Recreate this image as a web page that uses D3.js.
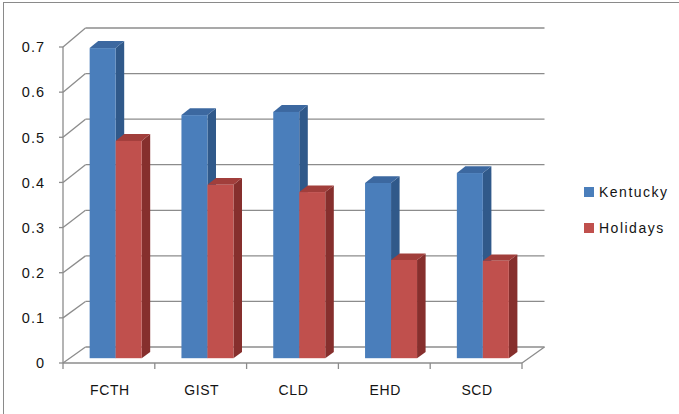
<!DOCTYPE html>
<html>
<head>
<meta charset="utf-8">
<script src="https://cdn.jsdelivr.net/npm/d3@7"></script>
<style>
  html, body { margin: 0; padding: 0; background: #fff; }
  svg { display: block; }
  text { font-family: "Liberation Sans", Arial, sans-serif; fill: #141414; }
</style>
</head>
<body>
<svg id="chart" width="679" height="414"></svg>
<script>
// Data
const categories = ["FCTH", "GIST", "CLD", "EHD", "SCD"];
const seriesNames = ["Kentucky", "Holidays"];
const kentucky = [0.685, 0.537, 0.544, 0.387, 0.409];
const holidays = [0.48, 0.383, 0.367, 0.217, 0.215];
const yTicks = [0, 0.1, 0.2, 0.3, 0.4, 0.5, 0.6, 0.7];
const yTickLabels = ["0", "0.1", "0.2", "0.3", "0.4", "0.5", "0.6", "0.7"];

const colors = {
  Kentucky: { front: "#4a7ebb", side: "#30598a", top: "#3c68a0" },
  Holidays: { front: "#c0504d", side: "#862f2d", top: "#a13e3b" }
};

const svg = d3.select("#chart");

// Outer chart frame
svg.append("rect")
  .attr("x", 3.5).attr("y", 2.5)
  .attr("width", 690).attr("height", 430)
  .attr("fill", "none").attr("stroke", "#8a8a8a").attr("stroke-width", 1);

// 3D plot box: front plane and back plane (oblique projection)
const frontLeft = 63, frontRight = 522;
const depthDX = 22.5;                 // horizontal shift of the back plane
const yFront = d3.scaleLinear().domain([0, 0.7]).range([363, 47]);
const yBack = d3.scaleLinear().domain([0, 0.7]).range([347, 28]);
const x = d3.scaleBand().domain(categories).range([frontLeft, frontRight]).paddingInner(0).paddingOuter(0);

// Interpolate a y-scale at depth fraction t (0 = front, 1 = back)
const yAt = (v, t) => yFront(v) + (yBack(v) - yFront(v)) * t;

const grid = svg.append("g");
const gridColor = "#8c8c8c";

// Back wall gridlines + side wall diagonals
yTicks.forEach(v => {
  grid.append("line")
    .attr("x1", frontLeft + depthDX).attr("y1", yBack(v))
    .attr("x2", frontRight + depthDX).attr("y2", yBack(v))
    .attr("stroke", gridColor).attr("stroke-width", 1.3);
  grid.append("line")
    .attr("x1", frontLeft).attr("y1", yFront(v))
    .attr("x2", frontLeft + depthDX).attr("y2", yBack(v))
    .attr("stroke", gridColor).attr("stroke-width", 1.3);
});

// Floor outline
grid.append("line")
  .attr("x1", frontLeft).attr("y1", yFront(0))
  .attr("x2", frontRight).attr("y2", yFront(0))
  .attr("stroke", gridColor).attr("stroke-width", 1.3);
grid.append("line")
  .attr("x1", frontRight).attr("y1", yFront(0))
  .attr("x2", frontRight + depthDX).attr("y2", yBack(0))
  .attr("stroke", gridColor).attr("stroke-width", 1.3);

// Front value axis
grid.append("line")
  .attr("x1", frontLeft).attr("y1", yFront(0.7))
  .attr("x2", frontLeft).attr("y2", yFront(0))
  .attr("stroke", gridColor).attr("stroke-width", 1.3);
yTicks.forEach((v, i) => {
  grid.append("line")
    .attr("x1", frontLeft - 4).attr("y1", yFront(v))
    .attr("x2", frontLeft).attr("y2", yFront(v))
    .attr("stroke", gridColor).attr("stroke-width", 1.3);
  svg.append("text")
    .attr("x", 45).attr("y", yFront(v))
    .attr("dy", "0.36em")
    .attr("text-anchor", "end")
    .attr("font-size", 14.5)
    .attr("letter-spacing", 1)
    .text(yTickLabels[i]);
});

// Category ticks along the front floor edge
const boundaries = categories.map(c => x(c)).concat([frontRight]);
boundaries.forEach(bx => {
  grid.append("line")
    .attr("x1", bx).attr("y1", yFront(0))
    .attr("x2", bx).attr("y2", yFront(0) + 6)
    .attr("stroke", gridColor).attr("stroke-width", 1.3);
});

// Category labels
categories.forEach(c => {
  svg.append("text")
    .attr("x", x(c) + x.bandwidth() / 2 + 1)
    .attr("y", 395)
    .attr("text-anchor", "middle")
    .attr("font-size", 14)
    .attr("letter-spacing", 0.6)
    .text(c);
});

// Bars: front face at depth t0, extending back to t1
const t0 = 0.3, t1 = 0.68;
const barW = 26;
const groupW = barW * 2;
const offX = t => depthDX * t;
const sdx = offX(t1) - offX(t0);

const bars = svg.append("g");
const seriesData = [kentucky, holidays];
categories.forEach((c, ci) => {
  const gx = x(c) + (x.bandwidth() - groupW) / 2 + offX(t0);
  seriesData.forEach((vals, si) => {
    const v = vals[ci];
    const col = colors[seriesNames[si]];
    const x0 = gx + si * barW, x1 = x0 + barW;
    const yb = yAt(0, t0), yt = yAt(v, t0);
    const ybB = yAt(0, t1), ytB = yAt(v, t1);
    // right side face
    bars.append("path")
      .attr("d", `M${x1},${yt} L${x1 + sdx},${ytB} L${x1 + sdx},${ybB} L${x1},${yb} Z`)
      .attr("fill", col.side);
    // top face
    bars.append("path")
      .attr("d", `M${x0},${yt} L${x1},${yt} L${x1 + sdx},${ytB} L${x0 + sdx},${ytB} Z`)
      .attr("fill", col.top);
    // front face
    bars.append("rect")
      .attr("x", x0).attr("y", yt)
      .attr("width", barW).attr("height", yb - yt)
      .attr("fill", col.front);
  });
});

// Legend
const legend = svg.append("g");
seriesNames.forEach((name, i) => {
  const ly = 187 + i * 36;
  legend.append("rect")
    .attr("x", 584).attr("y", ly)
    .attr("width", 10).attr("height", 10)
    .attr("fill", colors[name].front);
  legend.append("text")
    .attr("x", 599).attr("y", ly + 5)
    .attr("dy", "0.36em")
    .attr("font-size", 14)
    .attr("letter-spacing", 1.5)
    .text(name);
});
</script>
</body>
</html>
